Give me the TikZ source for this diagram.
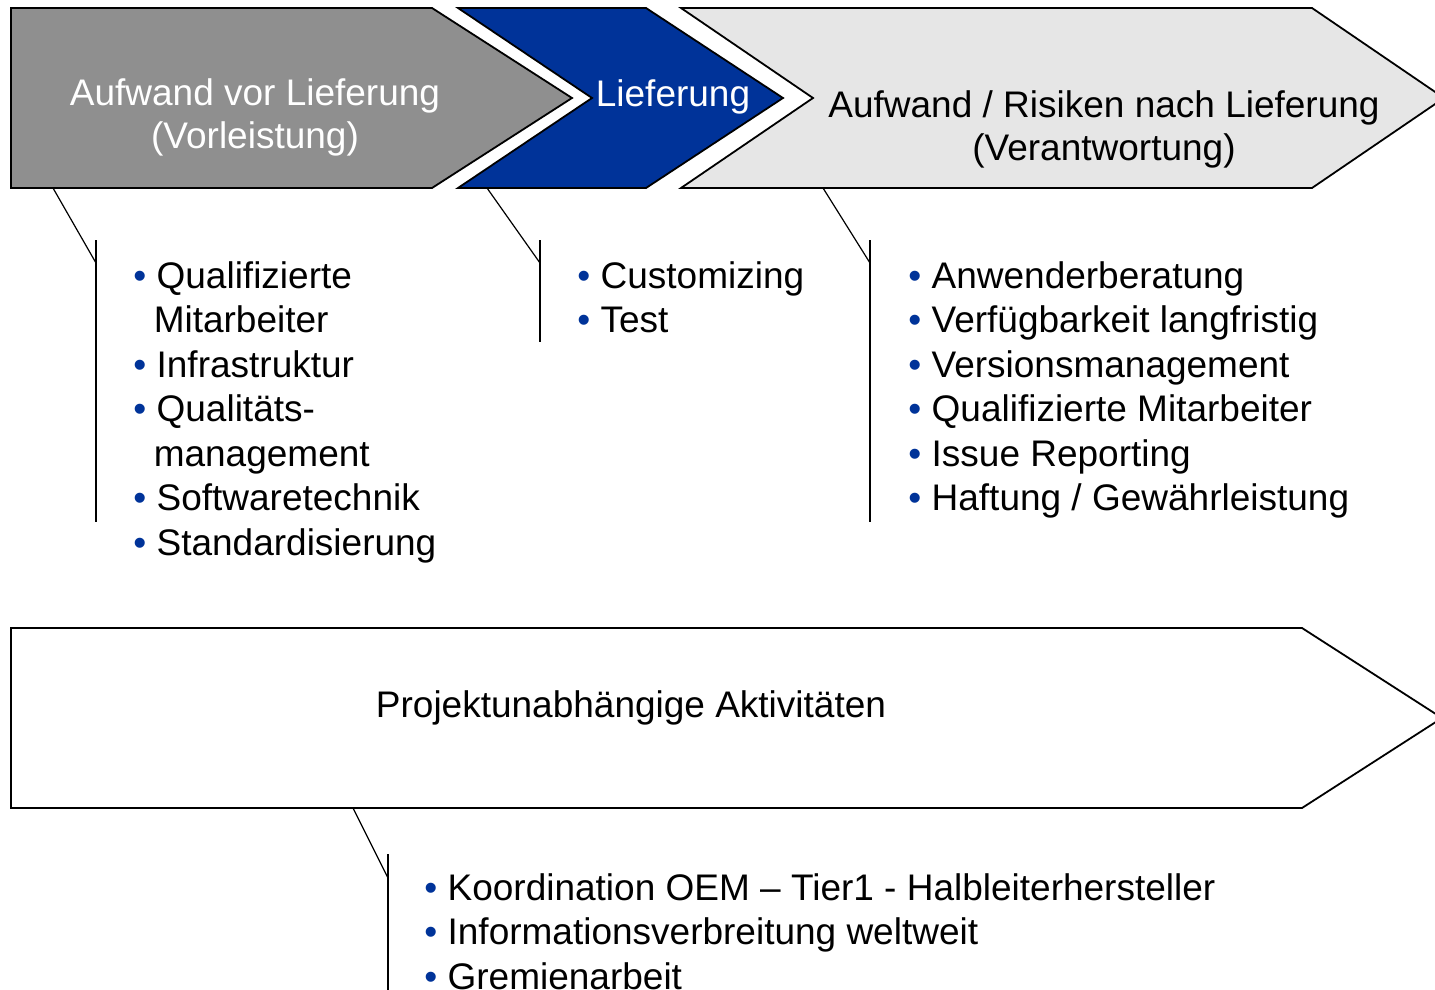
\documentclass[tikz,border=0pt]{standalone}
\usepackage{fontspec}
\setmainfont{Liberation Sans}
\definecolor{grauvor}{HTML}{8F8F8F}
\definecolor{liefblau}{HTML}{003399}
\definecolor{grauhell}{HTML}{E6E6E6}
\newcommand{\pkt}{{\color{liefblau}•}\ }
\newcommand{\einr}{\hspace*{0.55em}}
\begin{document}
\begin{tikzpicture}[x=0.5pt, y=-0.5pt,
    pfeil/.style={draw=black, line width=0.9pt, line join=miter},
    kopf/.style={font=\fontsize{18.5}{21.5}\selectfont, align=center, inner sep=0pt},
    liste/.style={font=\fontsize{18.5}{22.25}\selectfont, align=left, inner sep=0pt, anchor=north west},
    legende/.style={line width=0.6pt}]
    \useasboundingbox (0,0) rectangle (1435,990);

    % Phasenpfeile oben
    \draw[pfeil, fill=grauvor] (11,8) -- (432,8) -- (572,98) -- (432,188) -- (11,188) -- cycle;
    \draw[pfeil, fill=liefblau] (458,8) -- (646,8) -- (783,98) -- (646,188) -- (458,188) -- (592,98) -- cycle;
    \draw[pfeil, fill=grauhell] (681,8) -- (1312,8) -- (1444,98) -- (1312,188) -- (681,188) -- (813,98) -- cycle;

    % Pfeil unten
    \draw[pfeil, fill=white] (11,628) -- (1302,628) -- (1442,718) -- (1302,808) -- (11,808) -- cycle;

    % Beschriftung der Pfeile
    \node[kopf, text=white, anchor=north] (vortext) at (255,78) {Aufwand vor Lieferung\\(Vorleistung)};
    \node[kopf, text=white, anchor=base] (liefertext) at (673,107) {Lieferung};
    \node[kopf, anchor=north] (nachtext) at (1104,90) {Aufwand / Risiken nach Lieferung\\(Verantwortung)};
    \node[kopf, anchor=base] (allgtext) at (631,717) {Projektunabhängige Aktivitäten};

    % Listen
    \node[liste] (vorliste) at (133,261) {\pkt Qualifizierte\\\einr Mitarbeiter\\\pkt Infrastruktur\\\pkt Qualitäts-\\\einr management\\\pkt Softwaretechnik\\\pkt Standardisierung};
    \node[liste] (lieferliste) at (577,261) {\pkt Customizing\\\pkt Test};
    \node[liste] (nachliste) at (908,261) {\pkt Anwenderberatung\\\pkt Verfügbarkeit langfristig\\\pkt Versionsmanagement\\\pkt Qualifizierte Mitarbeiter\\\pkt Issue Reporting\\\pkt Haftung / Gewährleistung};
    \node[liste] (allgliste) at (424,873) {\pkt Koordination OEM – Tier1 - Halbleiterhersteller\\\pkt Informationsverbreitung weltweit\\\pkt Gremienarbeit};

    % Legendenlinien
    \coordinate (vorfuss) at (53,188);
    \coordinate (vorknick) at (96,263);
    \coordinate (vorkopf) at (96,240);
    \coordinate (vorende) at (96,522);
    \coordinate (lieferfuss) at (487,188);
    \coordinate (lieferknick) at (540,263);
    \coordinate (lieferkopf) at (540,240);
    \coordinate (lieferende) at (540,342);
    \coordinate (nachfuss) at (823,188);
    \coordinate (nachknick) at (870,263);
    \coordinate (nachkopf) at (870,240);
    \coordinate (nachende) at (870,522);
    \coordinate (allgfuss) at (353,808);
    \coordinate (allgknick) at (388,878);
    \coordinate (allgkopf) at (388,854);
    \coordinate (allgende) at (388,995);
    \draw[legende] (vorfuss) -- (vorknick);
    \draw[legende] (vorkopf) -- (vorende);
    \draw[legende] (lieferfuss) -- (lieferknick);
    \draw[legende] (lieferkopf) -- (lieferende);
    \draw[legende] (nachfuss) -- (nachknick);
    \draw[legende] (nachkopf) -- (nachende);
    \draw[legende] (allgfuss) -- (allgknick);
    \draw[legende] (allgkopf) -- (allgende);
\end{tikzpicture}
\end{document}
